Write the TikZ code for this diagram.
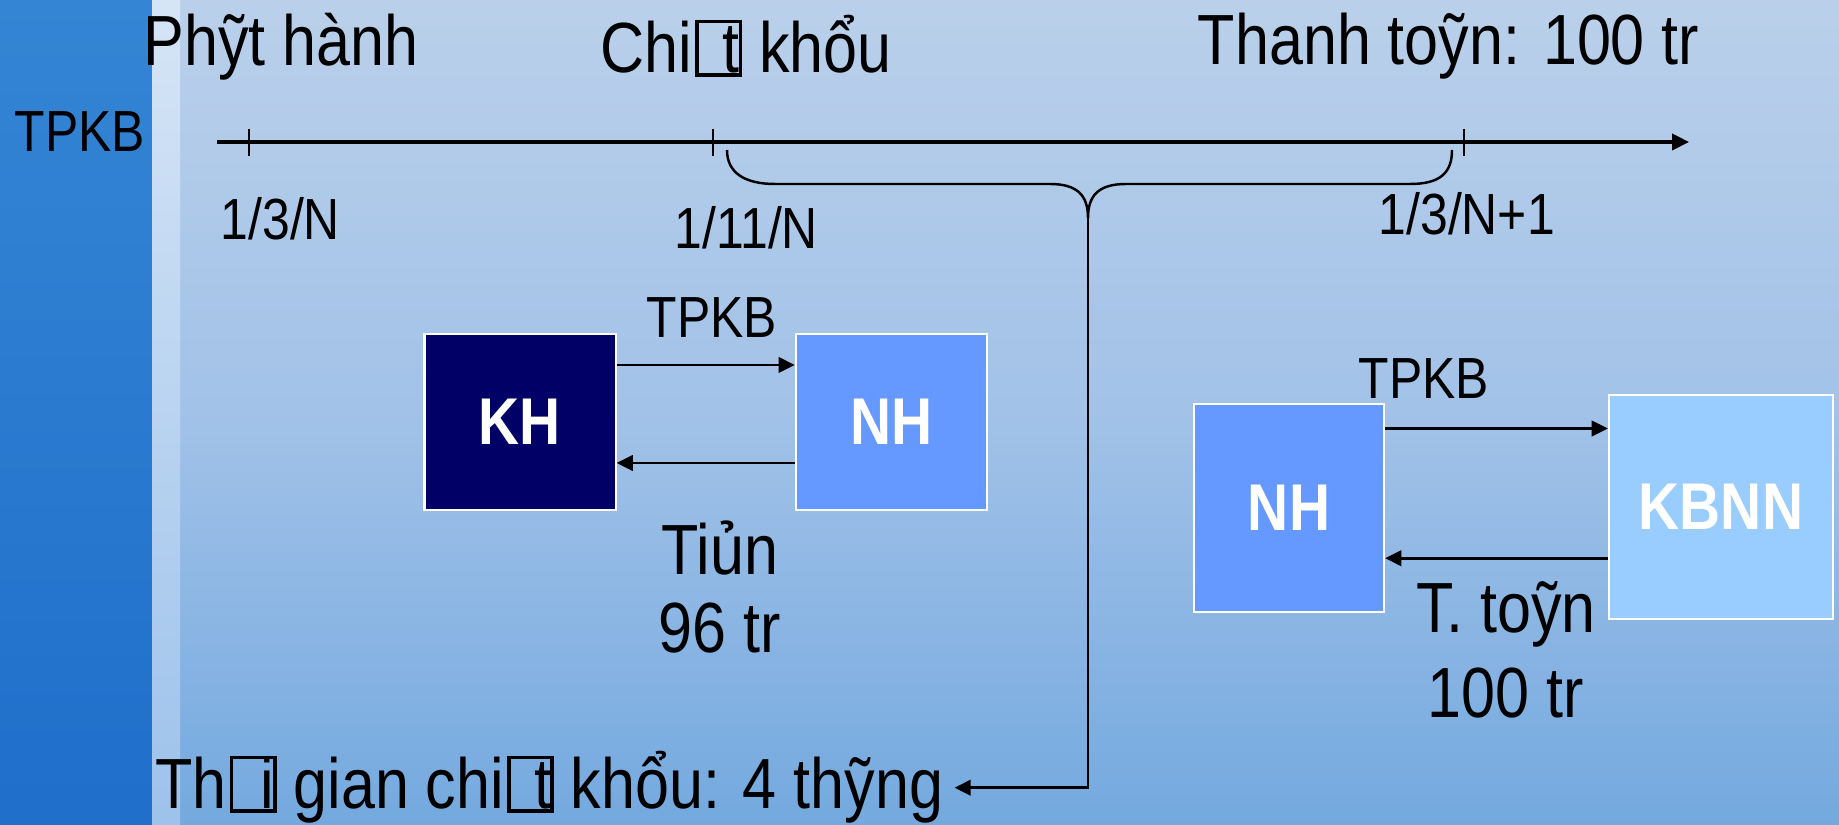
\documentclass[tikz,border=0pt]{standalone}
\usepackage{fontspec}
\setmainfont{Liberation Sans}[FakeStretch=0.86]
\usetikzlibrary{calc, arrows.meta, positioning}

\definecolor{khbox}{HTML}{000066}
\definecolor{nhbox}{HTML}{6699FF}
\definecolor{kbbox}{HTML}{99CCFF}
\definecolor{skytop}{HTML}{BAD0EA}
\definecolor{skymid}{HTML}{A2C2E8}
\definecolor{skybot}{HTML}{74A9DF}
\definecolor{stripetop}{HTML}{3585D5}
\definecolor{stripebot}{HTML}{1F6FCB}
\definecolor{bartop}{HTML}{D6E5F6}
\definecolor{barbot}{HTML}{9DC2EB}

% empty glyph box with the letter that overprints it
\newcommand{\tofu}[1]{\kern0.04em\rlap{\setlength{\fboxsep}{0pt}\setlength{\fboxrule}{0.05em}\fbox{\rule{0pt}{0.7em}\rule{0.56em}{0pt}}}\makebox[0.66em][r]{#1\kern0.03em}}

\tikzset{
  big/.style={font=\fontsize{20.2}{24}\selectfont, inner sep=0pt},
  small/.style={font=\fontsize{16.5}{20}\selectfont, inner sep=0pt},
  party/.style={draw=white, line width=0.6pt, text=white, inner sep=0pt,
    font=\fontsize{18.8}{22}\selectfont\bfseries},
  flow/.style={-{Triangle[length=4.6pt, width=4.4pt]}, line width=0.75pt},
}

\begin{document}
\begin{tikzpicture}[x=0.01cm, y=-0.01cm]
  \useasboundingbox (0,0) rectangle (1839,825);
  % background
  \fill[top color=skytop, bottom color=skybot, middle color=skymid] (0,0) rectangle (1839,825);
  \fill[top color=stripetop, bottom color=stripebot] (0,0) rectangle (152,825);
  \fill[top color=bartop, bottom color=barbot] (152,0) rectangle (180,825);

  % time axis
  \coordinate (start) at (217,142);
  \coordinate (stop) at (1689,142);
  \coordinate (issue) at (249,142);
  \coordinate (disc) at (713,142);
  \coordinate (due) at (1464,142);
  \draw[line width=0.9pt, -{Triangle[length=4.8pt, width=4.6pt]}] (start) -- (stop);
  \foreach \p in {issue, disc, due}
    \draw[line width=0.6pt] ($(\p)+(0,-13)$) -- ($(\p)+(0,14)$);

  \node[small, anchor=base west] (tpkb) at (14,152) {TPKB};
  \node[big, anchor=base west] (phathanh) at (143,66) {Phỹt hành};
  \node[big, anchor=base west] (chietkhau) at (600,73) {Chi\tofu{t} khổu};
  \node[big, anchor=base east] (thanhtoan) at (1700,65) {Thanh toỹn: 100 tr};
  \node[small, anchor=base west] (d1) at (220,240) {1/3/N};
  \node[small, anchor=base west] (d2) at (674,249) {1/11/N};
  \node[small, anchor=base west] (d3) at (1378,235) {1/3/N+1};

  % brace over the discount period
  \coordinate (bl) at (727,150);
  \coordinate (tip) at (1088,218);
  \coordinate (br) at (1452,150);
  \draw[line width=0.7pt] (bl) .. controls (727,173) and (745,184) .. (775,184)
    -- (1050,184) .. controls (1078,184) and (1088,196) .. (tip)
    .. controls (1088,196) and (1098,184) .. (1126,184)
    -- (1410,184) .. controls (1440,184) and (1452,173) .. (br);

  \node[big, anchor=base east] (thoigian) at (944,809) {Th\tofu{i} gian chi\tofu{t} khổu: 4 thỹng};
  \draw[flow] (tip) |- ([xshift=3pt]thoigian.east);

  % customer and bank
  \node[party, fill=khbox, minimum width=1.91cm, minimum height=1.76cm] (kh) at (520,422) {KH};
  \node[party, fill=nhbox, minimum width=1.91cm, minimum height=1.76cm, right=1.78cm of kh] (nh) {NH};
  \coordinate (k1) at ($(kh.north east)!0.18!(kh.south east)$);
  \coordinate (k2) at ($(kh.north east)!0.73!(kh.south east)$);
  \draw[flow] (k1) -- (k1 -| nh.west);
  \draw[flow] (k2 -| nh.west) -- (k2);
  \node[small, anchor=base] (tpkbA) at (712,338) {TPKB};
  \node[big, anchor=base] (tien) at (720,575) {Tiủn};
  \node[big, anchor=base] (tienso) at (720,653) {96 tr};

  % bank and treasury
  \node[party, fill=nhbox, minimum width=1.90cm, minimum height=2.07cm] (nhb) at (1289,508) {NH};
  \node[party, fill=kbbox, minimum width=2.24cm, minimum height=2.23cm] (kbnn) at (1721,507) {KBNN};
  \coordinate (n1) at ($(nhb.north east)!0.12!(nhb.south east)$);
  \coordinate (n2) at ($(nhb.north east)!0.74!(nhb.south east)$);
  \draw[flow] (n1) -- (n1 -| kbnn.west);
  \draw[flow] (n2 -| kbnn.west) -- (n2);
  \node[small, anchor=base] (tpkbB) at (1424,399) {TPKB};
  \node[big, anchor=base] (ttoan) at (1506,633) {T. toỹn};
  \node[big, anchor=base] (ttoanso) at (1506,718) {100 tr};
\end{tikzpicture}
\end{document}
